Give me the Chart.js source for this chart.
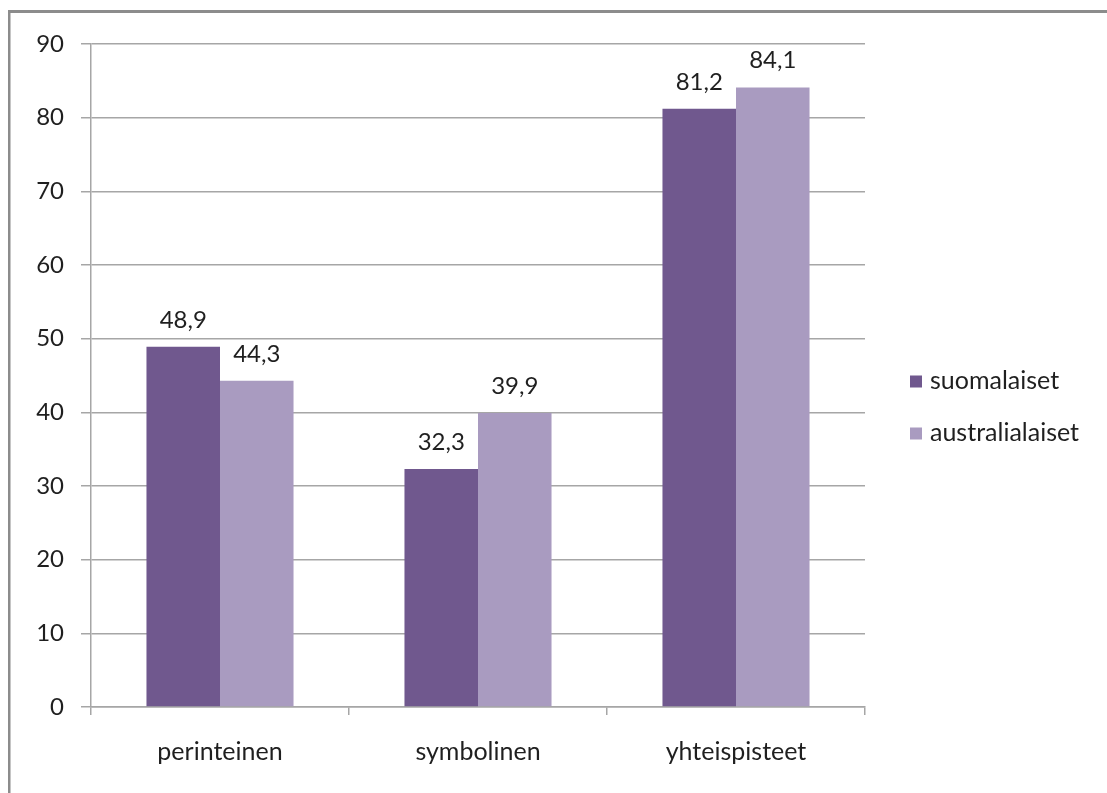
<!DOCTYPE html>
<html>
<head>
<meta charset="utf-8">
<script src="https://cdn.jsdelivr.net/npm/chart.js@4/dist/chart.umd.min.js"></script>
<style>
  html, body { margin: 0; padding: 0; background: #ffffff; }
  canvas { display: block; }
</style>
</head>
<body>
<canvas id="chart" width="1107" height="793"></canvas>
<script>
// Categories and series values
const categories = ['perinteinen', 'symbolinen', 'yhteispisteet'];
const suomalaiset = [48.9, 32.3, 81.2];
const australialaiset = [44.3, 39.9, 84.1];
const seriesNames = ['suomalaiset', 'australialaiset'];
const yTicks = [0, 10, 20, 30, 40, 50, 60, 70, 80, 90];

const FONT = 'Lato, "Open Sans", sans-serif';
const NUM_SIZE = 24;
const WORD_SIZE = 25;
const TEXT = '#1f1f1f';
const DARK = '#70588e';
const LIGHT = '#a99bc0';
const GRID = '#a6a6a6';

const fmt = v => v.toFixed(1).replace('.', ',');

// Thin frame along the top and left edges
const framePlugin = {
  id: 'frame',
  beforeDraw(chart) {
    const ctx = chart.ctx;
    ctx.save();
    ctx.fillStyle = '#8c8c8c';
    ctx.fillRect(8, 10, chart.width - 8, 3);
    ctx.fillRect(8, 10, 2.5, chart.height - 10);
    ctx.restore();
  }
};

// Value labels above each bar
const valueLabels = {
  id: 'valueLabels',
  afterDatasetsDraw(chart) {
    const ctx = chart.ctx;
    ctx.save();
    ctx.font = NUM_SIZE + 'px ' + FONT;
    ctx.fillStyle = TEXT;
    ctx.textAlign = 'center';
    ctx.textBaseline = 'alphabetic';
    chart.data.datasets.forEach((ds, i) => {
      chart.getDatasetMeta(i).data.forEach((bar, j) => {
        ctx.fillText(fmt(ds.data[j]), bar.x, bar.y - 19);
      });
    });
    ctx.restore();
  }
};

// Legend on the right side
const sideLegend = {
  id: 'sideLegend',
  afterDraw(chart) {
    const ctx = chart.ctx;
    ctx.save();
    ctx.font = WORD_SIZE + 'px ' + FONT;
    ctx.textBaseline = 'middle';
    ctx.textAlign = 'left';
    const rows = [381, 433];
    chart.data.datasets.forEach((ds, i) => {
      const y = rows[i];
      ctx.fillStyle = ds.backgroundColor;
      ctx.fillRect(910, y - 5.5, 12, 12);
      ctx.fillStyle = TEXT;
      ctx.fillText(ds.label, 930, y);
    });
    ctx.restore();
  }
};

new Chart(document.getElementById('chart'), {
  type: 'bar',
  data: {
    labels: categories,
    datasets: [
      { label: seriesNames[0], data: suomalaiset, backgroundColor: DARK },
      { label: seriesNames[1], data: australialaiset, backgroundColor: LIGHT }
    ]
  },
  options: {
    responsive: false,
    animation: false,
    events: [],
    layout: { padding: { top: 44, right: 242, left: 0, bottom: 0 } },
    datasets: { bar: { categoryPercentage: 0.57, barPercentage: 1.0 } },
    plugins: {
      legend: { display: false },
      tooltip: { enabled: false }
    },
    scales: {
      x: {
        offset: true,
        grid: {
          offset: true,
          drawOnChartArea: false,
          drawTicks: true,
          tickLength: 8,
          color: GRID,
          lineWidth: 1.5
        },
        border: { display: true, color: GRID, width: 1.5 },
        ticks: {
          font: { family: FONT, size: WORD_SIZE },
          color: TEXT,
          padding: 22
        },
        afterFit(scale) { scale.height = 86; }
      },
      y: {
        min: 0,
        max: 90,
        afterBuildTicks(scale) { scale.ticks = yTicks.map(v => ({ value: v })); },
        grid: {
          color: GRID,
          lineWidth: 1.5,
          drawTicks: true,
          tickLength: 10
        },
        border: { display: true, color: GRID, width: 1.5 },
        ticks: {
          font: { family: FONT, size: NUM_SIZE },
          color: TEXT,
          padding: 17
        },
        afterFit(scale) { scale.width = 91; }
      }
    }
  },
  plugins: [framePlugin, valueLabels, sideLegend]
});
</script>
</body>
</html>
